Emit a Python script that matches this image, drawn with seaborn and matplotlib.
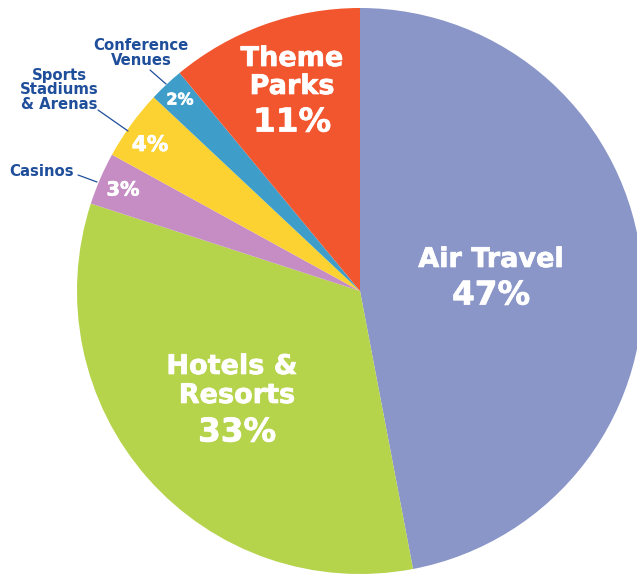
import matplotlib
matplotlib.use("Agg")
import matplotlib.pyplot as plt
import matplotlib.patheffects as pe
import seaborn as sns

# Share of each venue category
categories = ["Air Travel", "Hotels & Resorts", "Casinos",
              "Sports Stadiums & Arenas", "Conference Venues", "Theme Parks"]
shares = [47, 33, 3, 4, 2, 11]
colors = ["#8A95C8", "#B6D34C", "#C58DC3", "#FCD232", "#3F9EC9", "#F2562F"]

sns.set_style("white")
plt.rcParams["font.family"] = ["DejaVu Sans"]

W, H = 637, 574
fig = plt.figure(figsize=(W / 100, H / 100), dpi=100)
ax = fig.add_axes([0, 0, 1, 1])

cx, cy, r = 360, H - 291, 283
ax.pie(shares, colors=colors, startangle=90, counterclock=False,
       center=(cx, cy), radius=r, frame=True,
       wedgeprops=dict(linewidth=0))
ax.set_xlim(0, W)
ax.set_ylim(0, H)
ax.set_aspect("equal")
ax.axis("off")


def y(v):
    return H - v


navy = "#1F4E9A"
heavy_white = [pe.withStroke(linewidth=0.5, foreground="white")]
white = dict(color="white", ha="center", va="center", fontweight="bold",
             path_effects=heavy_white)
name_fs, pct_fs = 19.5, 23.5

# Labels inside the large wedges
ax.text(491, y(260), "Air Travel", fontsize=name_fs, **white)
ax.text(491, y(295), f"{shares[0]}%", fontsize=pct_fs, **white)

ax.text(232, y(367), "Hotels &", fontsize=name_fs, **white)
ax.text(237, y(396), "Resorts", fontsize=name_fs, **white)
ax.text(237, y(432), f"{shares[1]}%", fontsize=pct_fs, **white)

ax.text(292, y(59), "Theme", fontsize=name_fs, **white)
ax.text(292, y(87), "Parks", fontsize=name_fs, **white)
ax.text(292, y(122), f"{shares[5]}%", fontsize=pct_fs, **white)

# Percentages inside the small wedges
ax.text(123, y(190), f"{shares[2]}%", fontsize=14, **white)
ax.text(150, y(145), f"{shares[3]}%", fontsize=15.5, **white)
ax.text(180, y(100), f"{shares[4]}%", fontsize=11.5, **white)

# Outside labels with leader lines
lab = dict(color=navy, ha="center", va="center", fontweight="bold",
           fontsize=10.7, linespacing=0.92)
ax.text(42, y(171), "Casinos", **lab)
ax.plot([78, 97], [y(175), y(182)], color=navy, lw=0.9)

ax.text(59, y(90), "Sports\nStadiums\n& Arenas", **lab)
ax.plot([98, 128], [y(110), y(131)], color=navy, lw=0.9)

ax.text(141, y(53), "Conference\nVenues", **lab)
ax.plot([150, 166], [y(70), y(84)], color=navy, lw=0.9)

fig.savefig("out.png", dpi=100)
